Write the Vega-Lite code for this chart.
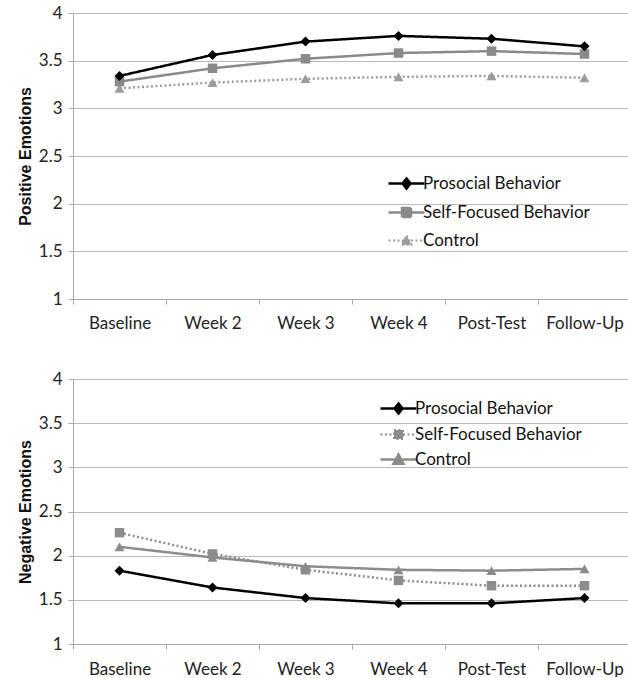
{
  "$schema": "https://vega.github.io/schema/vega-lite/v6.json",
  "autosize": {"type": "pad"},
  "padding": {"left": 17, "top": 4, "right": 0, "bottom": 0},
  "background": "white",
  "spacing": 80,
  "bounds": "flush",
  "config": {
    "view": {"stroke": null},
    "font": "Lato",
    "axis": {
      "labelFont": "Lato",
      "labelFontSize": 17,
      "labelColor": "#222222",
      "titleFont": "Liberation Sans",
      "titleFontSize": 16,
      "titleFontWeight": "bold",
      "titleColor": "#111111",
      "domainColor": "#a8a8a8",
      "tickColor": "#a8a8a8",
      "gridColor": "#b8b8b8",
      "tickSize": 5
    },
    "legend": {
      "labelFont": "Lato",
      "labelFontSize": 17,
      "labelColor": "#111111",
      "labelLimit": 400,
      "title": null,
      "padding": 0,
      "symbolSize": 1296,
      "symbolStrokeWidth": 2.5,
      "labelOffset": 8
    }
  },
  "resolve": {
    "scale": {"stroke": "independent", "strokeDash": "independent", "x": "independent", "y": "independent"},
    "legend": {"stroke": "independent"}
  },
  "vconcat": [
    {
      "width": 558,
      "height": 286,
      "data": {"values": [
        {"time": "Baseline", "group": "Control", "value": 3.21},
        {"time": "Week 2", "group": "Control", "value": 3.27},
        {"time": "Week 3", "group": "Control", "value": 3.31},
        {"time": "Week 4", "group": "Control", "value": 3.33},
        {"time": "Post-Test", "group": "Control", "value": 3.34},
        {"time": "Follow-Up", "group": "Control", "value": 3.32},
        {"time": "Baseline", "group": "Self-Focused Behavior", "value": 3.28},
        {"time": "Week 2", "group": "Self-Focused Behavior", "value": 3.42},
        {"time": "Week 3", "group": "Self-Focused Behavior", "value": 3.52},
        {"time": "Week 4", "group": "Self-Focused Behavior", "value": 3.58},
        {"time": "Post-Test", "group": "Self-Focused Behavior", "value": 3.60},
        {"time": "Follow-Up", "group": "Self-Focused Behavior", "value": 3.57},
        {"time": "Baseline", "group": "Prosocial Behavior", "value": 3.34},
        {"time": "Week 2", "group": "Prosocial Behavior", "value": 3.56},
        {"time": "Week 3", "group": "Prosocial Behavior", "value": 3.70},
        {"time": "Week 4", "group": "Prosocial Behavior", "value": 3.76},
        {"time": "Post-Test", "group": "Prosocial Behavior", "value": 3.73},
        {"time": "Follow-Up", "group": "Prosocial Behavior", "value": 3.65}
      ]},
      "encoding": {
        "x": {
          "field": "time", "type": "nominal", "sort": null,
          "scale": {"type": "band", "domain": ["Baseline", "Week 2", "Week 3", "Week 4", "Post-Test", "Follow-Up"], "paddingInner": 0, "paddingOuter": 0},
          "axis": {"title": null, "labelAngle": 0, "tickBand": "extent", "grid": false, "labelPadding": 11}
        },
        "y": {
          "field": "value", "type": "quantitative",
          "scale": {"domain": [1, 4], "nice": false, "zero": false},
          "axis": {"title": "Positive Emotions", "values": [1, 1.5, 2, 2.5, 3, 3.5, 4], "format": "~g", "labelPadding": 6, "titlePadding": 5}
        }
      },
      "layer": [
        {
          "mark": {"type": "line", "strokeWidth": 2.5},
          "encoding": {
            "stroke": {
              "field": "group", "type": "nominal",
              "scale": {"domain": ["Prosocial Behavior", "Self-Focused Behavior", "Control"], "range": ["#000000", "#8a8a8a", "#9c9c9c"]},
              "legend": {
                "orient": "none", "legendX": 325, "legendY": 162, "rowPadding": 9, "symbolSize": 1296,
                "encode": {"symbols": {"update": {
                  "size": {"value": 1296},
                  "shape": {"signal": "datum.value === 'Prosocial Behavior' ? 'M-1,0H1M0,-0.28L0.22,0L0,0.28L-0.22,0Z' : datum.value === 'Self-Focused Behavior' ? 'M-1,0H1M-0.25,-0.25H0.25V0.25H-0.25Z' : 'M-1,0H1M0,-0.28L0.28,0.24H-0.28Z'"},
                  "fill": {"signal": "datum.value === 'Prosocial Behavior' ? '#000000' : datum.value === 'Self-Focused Behavior' ? '#8a8a8a' : '#9c9c9c'"},
                  "strokeDash": {"signal": "datum.value === 'Control' ? [2, 2.5] : [1, 0]"},
                  "strokeWidth": {"signal": "datum.value === 'Control' ? 2 : 2.5"}
                }}}
              }
            },
            "strokeDash": {
              "field": "group", "type": "nominal",
              "scale": {"domain": ["Prosocial Behavior", "Self-Focused Behavior", "Control"], "range": [[1, 0], [1, 0], [2, 2.5]]},
              "legend": null
            }
          }
        },
        {
          "transform": [{"filter": "datum.group === 'Control'"}],
          "mark": {"type": "point", "filled": true, "opacity": 1, "size": 100, "shape": "triangle-up", "color": "#9c9c9c"}
        },
        {
          "transform": [{"filter": "datum.group === 'Self-Focused Behavior'"}],
          "mark": {"type": "point", "filled": true, "opacity": 1, "size": 90, "shape": "square", "color": "#8a8a8a"}
        },
        {
          "transform": [{"filter": "datum.group === 'Prosocial Behavior'"}],
          "mark": {"type": "point", "filled": true, "opacity": 1, "size": 100, "shape": "diamond", "color": "#000000"}
        }
      ]
    },
    {
      "width": 558,
      "height": 265,
      "data": {"values": [
        {"time": "Baseline", "group": "Control", "value": 2.10},
        {"time": "Week 2", "group": "Control", "value": 1.98},
        {"time": "Week 3", "group": "Control", "value": 1.88},
        {"time": "Week 4", "group": "Control", "value": 1.84},
        {"time": "Post-Test", "group": "Control", "value": 1.83},
        {"time": "Follow-Up", "group": "Control", "value": 1.85},
        {"time": "Baseline", "group": "Self-Focused Behavior", "value": 2.26},
        {"time": "Week 2", "group": "Self-Focused Behavior", "value": 2.02},
        {"time": "Week 3", "group": "Self-Focused Behavior", "value": 1.84},
        {"time": "Week 4", "group": "Self-Focused Behavior", "value": 1.72},
        {"time": "Post-Test", "group": "Self-Focused Behavior", "value": 1.66},
        {"time": "Follow-Up", "group": "Self-Focused Behavior", "value": 1.66},
        {"time": "Baseline", "group": "Prosocial Behavior", "value": 1.83},
        {"time": "Week 2", "group": "Prosocial Behavior", "value": 1.64},
        {"time": "Week 3", "group": "Prosocial Behavior", "value": 1.52},
        {"time": "Week 4", "group": "Prosocial Behavior", "value": 1.46},
        {"time": "Post-Test", "group": "Prosocial Behavior", "value": 1.46},
        {"time": "Follow-Up", "group": "Prosocial Behavior", "value": 1.52}
      ]},
      "encoding": {
        "x": {
          "field": "time", "type": "nominal", "sort": null,
          "scale": {"type": "band", "domain": ["Baseline", "Week 2", "Week 3", "Week 4", "Post-Test", "Follow-Up"], "paddingInner": 0, "paddingOuter": 0},
          "axis": {"title": null, "labelAngle": 0, "tickBand": "extent", "grid": false, "labelPadding": 12}
        },
        "y": {
          "field": "value", "type": "quantitative",
          "scale": {"domain": [1, 4], "nice": false, "zero": false},
          "axis": {"title": "Negative Emotions", "values": [1, 1.5, 2, 2.5, 3, 3.5, 4], "format": "~g", "labelPadding": 6, "titlePadding": 5}
        }
      },
      "layer": [
        {
          "mark": {"type": "line", "strokeWidth": 2.5},
          "encoding": {
            "stroke": {
              "field": "group", "type": "nominal",
              "scale": {"domain": ["Prosocial Behavior", "Self-Focused Behavior", "Control"], "range": ["#000000", "#8c8c8c", "#8c8c8c"]},
              "legend": {
                "orient": "none", "legendX": 317, "legendY": 21, "rowPadding": 6, "symbolSize": 1296,
                "encode": {"symbols": {"update": {
                  "size": {"value": 1296},
                  "shape": {"signal": "datum.value === 'Prosocial Behavior' ? 'M-1,0H1M0,-0.28L0.22,0L0,0.28L-0.22,0Z' : datum.value === 'Self-Focused Behavior' ? 'M-1,0H1M-0.25,-0.25H0.25V0.25H-0.25Z' : 'M-1,0H1M0,-0.28L0.28,0.24H-0.28Z'"},
                  "fill": {"signal": "datum.value === 'Prosocial Behavior' ? '#000000' : '#8c8c8c'"},
                  "strokeDash": {"signal": "datum.value === 'Self-Focused Behavior' ? [2, 2.5] : [1, 0]"},
                  "strokeWidth": {"signal": "datum.value === 'Self-Focused Behavior' ? 2 : 2.5"}
                }}}
              }
            },
            "strokeDash": {
              "field": "group", "type": "nominal",
              "scale": {"domain": ["Prosocial Behavior", "Self-Focused Behavior", "Control"], "range": [[1, 0], [2, 2.5], [1, 0]]},
              "legend": null
            }
          }
        },
        {
          "transform": [{"filter": "datum.group === 'Control'"}],
          "mark": {"type": "point", "filled": true, "opacity": 1, "size": 100, "shape": "triangle-up", "color": "#8c8c8c"}
        },
        {
          "transform": [{"filter": "datum.group === 'Self-Focused Behavior'"}],
          "mark": {"type": "point", "filled": true, "opacity": 1, "size": 90, "shape": "square", "color": "#8c8c8c"}
        },
        {
          "transform": [{"filter": "datum.group === 'Prosocial Behavior'"}],
          "mark": {"type": "point", "filled": true, "opacity": 1, "size": 100, "shape": "diamond", "color": "#000000"}
        }
      ]
    }
  ]
}
